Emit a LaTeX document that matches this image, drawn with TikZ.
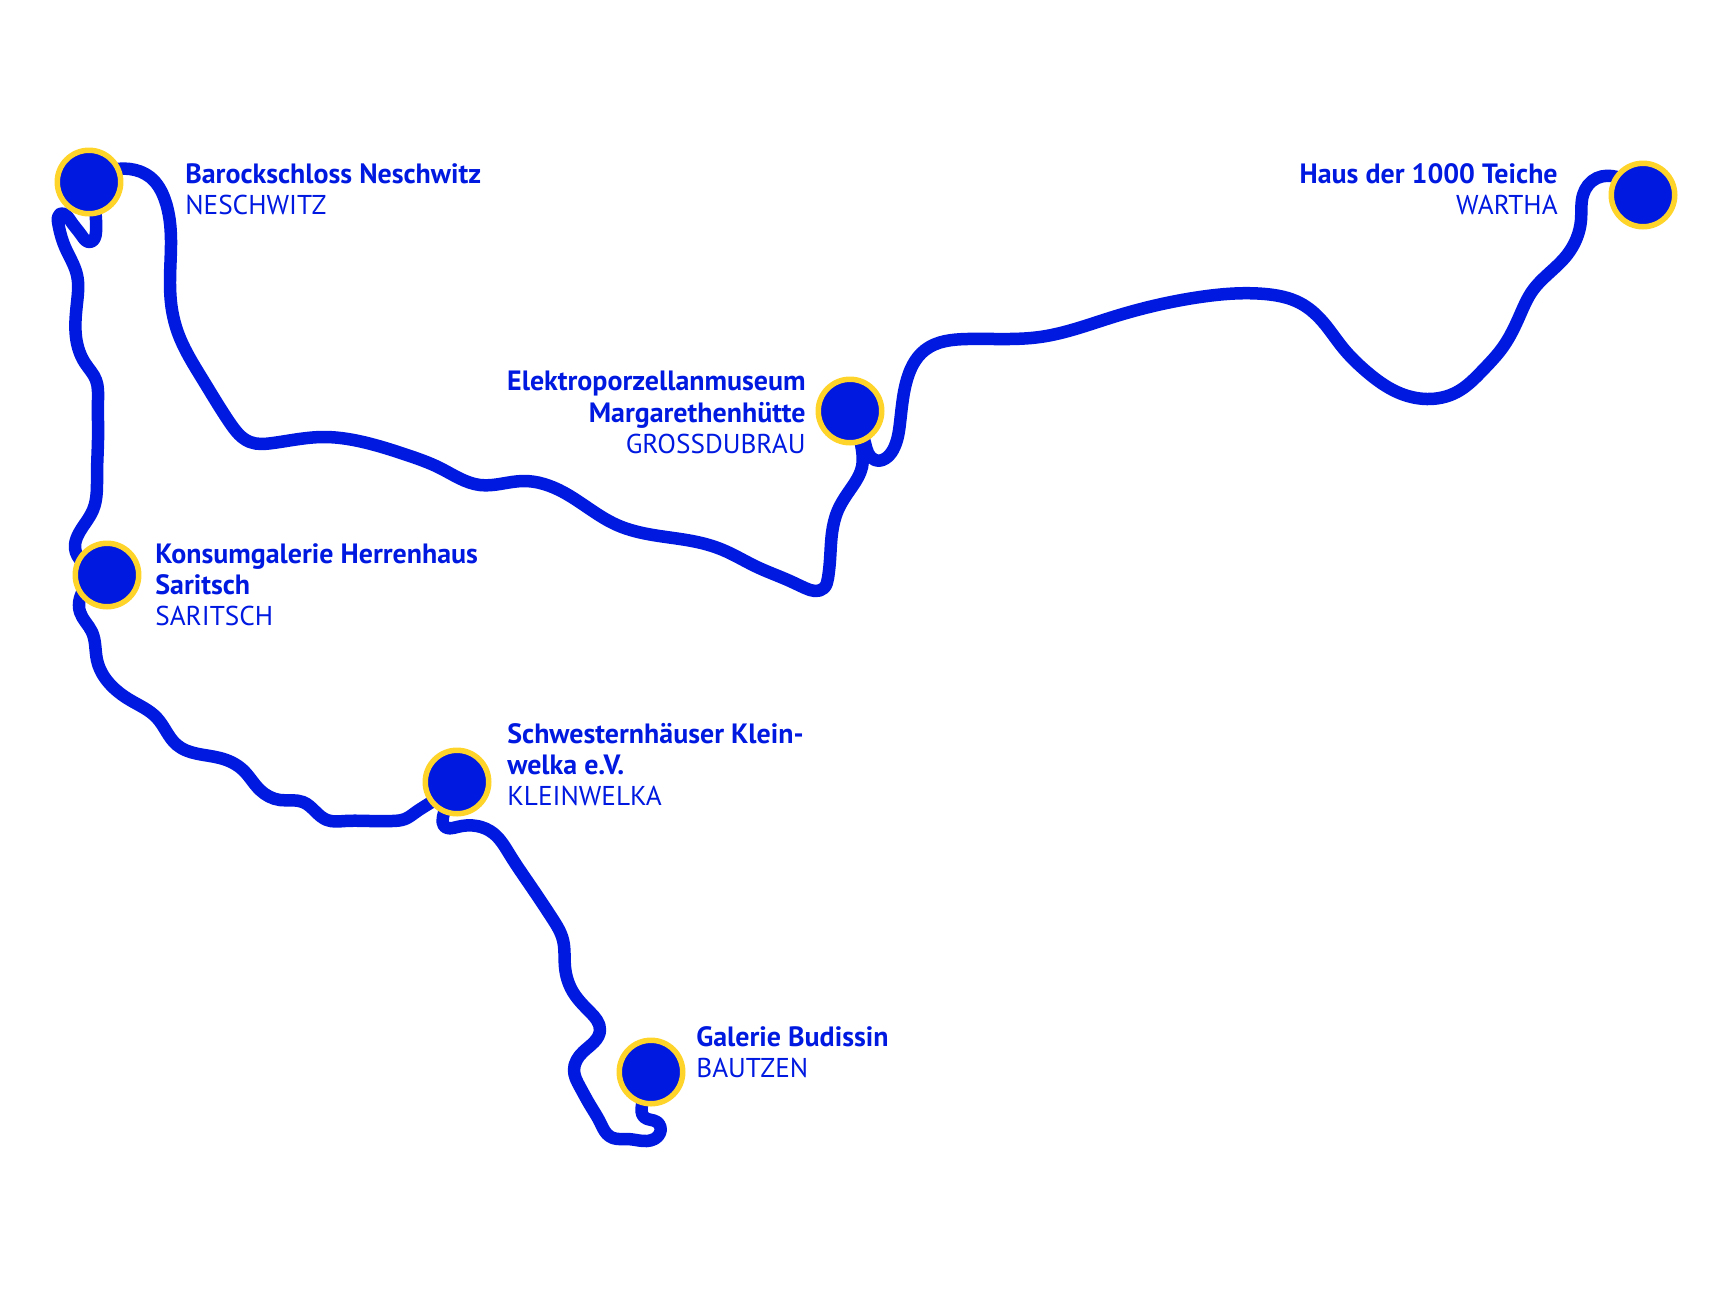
\documentclass[tikz,border=0pt]{standalone}
\usepackage{fontspec}
\setmainfont{PT Sans}
\usetikzlibrary{backgrounds, hobby}
\definecolor{routeblue}{HTML}{0019E0}
\definecolor{ringyellow}{HTML}{FFD42A}
\newcommand{\placename}[1]{{\fontsize{15.9}{17.75}\selectfont\bfseries #1}}

\begin{document}
\begin{tikzpicture}[x=0.02cm, y=-0.02cm,
	station/.style={shape=circle, draw=ringyellow, fill=routeblue, line width=0.11cm, minimum size=1.27cm, inner sep=0pt},
	routeline/.style={draw=routeblue, line width=0.25cm, line cap=round, line join=round, use Hobby shortcut},
	placeleft/.style={anchor=north west, align=left, inner sep=0pt, text=routeblue, font=\fontsize{15.5}{17.75}\selectfont},
	placeright/.style={placeleft, anchor=north east, align=right}]

	\useasboundingbox (0, 0) rectangle (1728, 1296);

	\node[station] at (89, 182) (neschwitz){};
	\node[station] at (107, 575) (saritsch){};
	\node[station] at (457, 782) (kleinwelka){};
	\node[station] at (651, 1072) (bautzen){};
	\node[station] at (850, 411) (grossdubrau){};
	\node[station] at (1643, 195) (wartha){};

	\node[placeleft] at (185, 163) (neschwitzlabel){\placename{Barockschloss Neschwitz}\\NESCHWITZ};
	\node[placeleft] at (155, 543) (saritschlabel){\placename{Konsumgalerie Herrenhaus}\\\placename{Saritsch}\\SARITSCH};
	\node[placeleft] at (507, 723) (kleinwelkalabel){\placename{Schwesternhäuser Klein-}\\\placename{welka e.V.}\\KLEINWELKA};
	\node[placeleft] at (696, 1026) (bautzenlabel){\placename{Galerie Budissin}\\BAUTZEN};
	\node[placeright] at (806, 371) (grossdubraulabel){\placename{Elektroporzellanmuseum}\\\placename{Margarethenhütte}\\GROSSDUBRAU};
	\node[placeright] at (1558, 163) (warthalabel){\placename{Haus der 1000 Teiche}\\WARTHA};

	\begin{scope}[on background layer]
		\draw[routeline] (wartha.center) .. (1617, 177) .. (1597, 178) .. (1583, 195) .. (1581, 220) .. (1567, 255) .. (1547, 275) .. (1533, 290) .. (1520, 315) .. (1503, 347) .. (1483, 370) .. (1457, 392) .. (1427, 399) .. (1397, 392) .. (1367, 372) .. (1343, 348) .. (1323, 322) .. (1300, 303) .. (1265, 294) .. (1200, 297) .. (1113, 317) .. (1040, 337) .. (967, 339) .. (925, 350) .. (906, 383) .. (900, 423) .. (893, 450) .. (875, 460) .. (865, 443) .. (grossdubrau.center);
		\draw[routeline] (grossdubrau.center) .. (862, 450) .. (862, 467) .. (852, 487) .. (838, 510) .. (832, 533) .. (830, 560) .. (828, 578) .. (824, 588) .. (815, 591) .. (805, 588) .. (790, 581) .. (757, 567) .. (723, 550) .. (697, 542) .. (653, 535) .. (617, 525) .. (563, 492) .. (523, 481) .. (480, 485) .. (440, 468) .. (407, 455) .. (363, 442) .. (323, 437) .. (273, 443) .. (250, 442) .. (230, 423) .. (203, 380) .. (178, 333) .. (172, 310) .. (170, 280) .. (171, 240) .. (165, 200) .. (150, 177) .. (130, 169) .. (neschwitz.center);
		\draw[routeline] (neschwitz.center) .. (96, 220) .. (96, 232) .. (90, 242) .. (82, 236) .. (70, 220) .. (60, 214) .. (58, 222) .. (65, 247) .. (77, 275) .. (77, 303) .. (76, 337) .. (85, 363) .. (96, 380) .. (98, 400) .. (98, 440) .. (97, 475) .. (93, 510) .. (78, 535) .. (75, 548) .. (83, 563) .. (saritsch.center);
		\draw[routeline] (saritsch.center) .. (80, 598) .. (80, 612) .. (92, 632) .. (97, 660) .. (130, 700) .. (157, 718) .. (177, 745) .. (220, 758) .. (243, 770) .. (260, 790) .. (280, 800) .. (303, 802) .. (327, 820) .. (345, 821) .. (370, 821) .. (392, 821) .. (405, 819) .. (416, 812) .. (430, 803) .. (kleinwelka.center);
		\draw[routeline] (kleinwelka.center) .. (443, 817) .. (444, 826) .. (457, 827) .. (477, 826) .. (493, 833) .. (510, 855) .. (530, 885) .. (552, 918) .. (563, 940) .. (565, 967) .. (573, 992) .. (590, 1012) .. (600, 1030) .. (583, 1052) .. (574, 1070) .. (580, 1087) .. (590, 1105) .. (600, 1122) .. (607, 1134) .. (613, 1138) .. (628, 1139) .. (647, 1141) .. (660, 1133) .. (657, 1122) .. (644, 1117) .. (642, 1105) .. (bautzen.center);
	\end{scope}
\end{tikzpicture}
\end{document}
